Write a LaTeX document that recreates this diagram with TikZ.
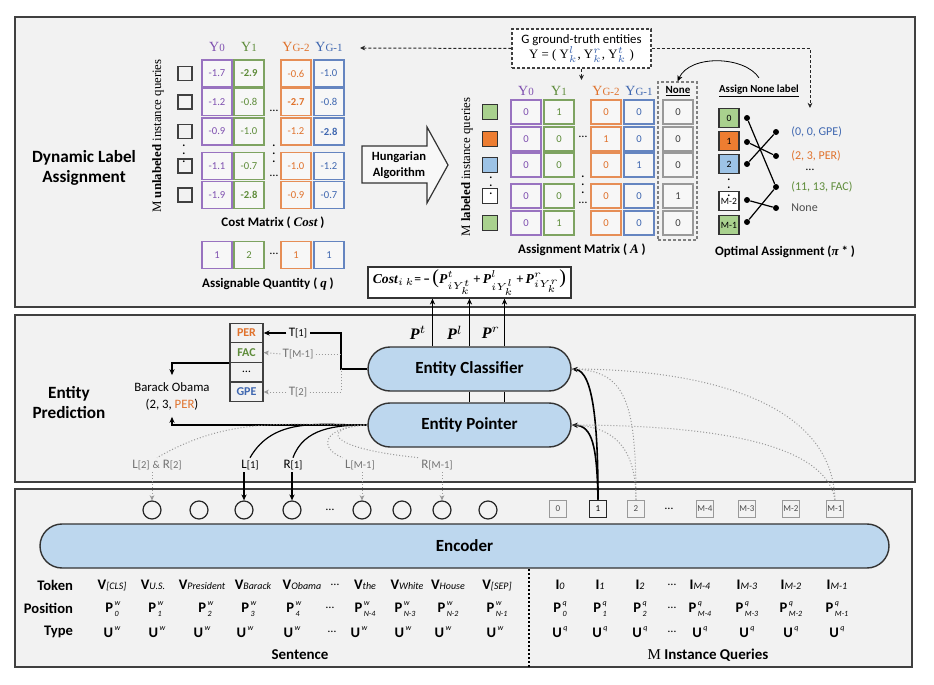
\documentclass[tikz,border=0pt]{standalone}
\usepackage{fontspec}
\usepackage{amsmath}
\setmainfont{Carlito}
\newfontfamily\serifont{Liberation Serif}
\usetikzlibrary{arrows.meta,calc,positioning}

\definecolor{panelbg}{HTML}{F2F2F2}
\definecolor{modfill}{HTML}{BDD7EE}
\definecolor{cpur}{HTML}{7F50B0}
\definecolor{cgrn}{HTML}{5E8C3A}
\definecolor{corg}{HTML}{E0722C}
\definecolor{cblu}{HTML}{3F67B0}
\definecolor{sqgrn}{HTML}{A9D18E}
\definecolor{sqorg}{HTML}{ED7D31}
\definecolor{sqblu}{HTML}{9DC3E6}
\definecolor{ngray}{HTML}{7F7F7F}

\newcommand\fsz[2]{\fontsize{#1pt}{#2pt}\selectfont}
\newcommand\colY[1]{Y{\fsz{5.5}{6}#1}}
\newcommand\idx[2]{#1{\fsz{5.3}{6}#2}}
\newcommand\tokV[1]{\textbf{V}{\fsz{5}{6}\itshape #1}}
\newcommand\qryI[1]{\textbf{I}{\fsz{5}{6}\itshape #1}}
\newcommand\posP[2]{\textbf{P}\kern0.7pt\rlap{\raisebox{3.8pt}{\fsz{4}{5}\itshape #1}}\raisebox{-1.9pt}{\fsz{4}{5}\itshape #2}}
\newcommand\typU[1]{\textbf{U}\kern0.7pt\raisebox{3.6pt}{\fsz{4}{5}\itshape #1}}
\newcommand\bfP{{\serifont\bfseries\itshape P}}
\newcommand\bigpar[1]{{\fsz{10}{10}\serifont #1}}

\tikzset{
  panel/.style={draw=black!75, fill=panelbg, line width=0.6pt},
  sectitle/.style={font=\bfseries\fsz{8.6}{10}, align=center},
  cell/.style={draw=#1!80, text=#1, fill=white!40!panelbg, line width=0.7pt,
    minimum width=15pt, minimum height=13.5pt, inner sep=0pt, font=\fsz{5.3}{6}},
  acell/.style={cell=#1, minimum height=12pt},
  hdr/.style={text=#1, font=\serifont\fsz{7}{8}},
  chk/.style={draw=black!75, fill=panelbg, line width=0.7pt, minimum size=7pt, inner sep=0pt},
  lsq/.style={draw=black!80, fill=#1, line width=0.6pt, minimum size=7.5pt, inner sep=0pt},
  obox/.style={draw=black!80, fill=#1, line width=0.6pt, minimum width=10pt,
    minimum height=9.5pt, inner sep=0pt, font=\fsz{4.8}{5}},
  odot/.style={circle, fill=black, inner sep=0pt, minimum size=3pt},
  capt/.style={font=\bfseries\fsz{6.5}{8}},
  ell/.style={font=\fsz{6}{7}, inner sep=0pt},
  vell/.style={font=\fsz{7}{8}, inner sep=0pt},
  rot/.style={rotate=90, font=\serifont\fsz{6.4}{7}},
  module/.style={draw=black!80, fill=modfill, line width=0.7pt, rounded corners=11pt,
    minimum width=101.5pt, minimum height=22pt, font=\bfseries\fsz{8.5}{10}},
  costbox/.style={draw=black!80, fill=white, line width=0.6pt, minimum width=101.5pt,
    minimum height=15.5pt, inner sep=0pt, font=\fsz{6.8}{8}},
  plab/.style={font=\fsz{8}{9}},
  tcell/.style={draw=black!75, fill=panelbg, line width=0.7pt, minimum width=16.5pt,
    minimum height=9.75pt, inner sep=0pt, font=\bfseries\fsz{6}{7}},
  tlab/.style={font=\fsz{6.5}{7}, inner sep=1pt},
  tok/.style={circle, draw=black!85, fill=panelbg, line width=0.6pt, minimum size=9pt, inner sep=0pt},
  qbox/.style={draw=black!40, fill=panelbg, line width=0.8pt, minimum size=8.5pt,
    inner sep=0pt, font=\fsz{4.5}{5}, text=black!70},
  rowlab/.style={font=\bfseries\fsz{7.3}{8}, anchor=east},
  rowtxt/.style={font=\fsz{7.3}{8}, inner sep=0.5pt},
  arr/.style={-{Stealth[length=3pt,width=2.6pt]}},
  gdot/.style={draw=black!40, line width=0.5pt, dash pattern=on 0.5pt off 1pt},
  gdarr/.style={gdot, -{Stealth[length=2.6pt,width=2.4pt]}},
  dsarr/.style={draw=black!85, line width=0.5pt, dash pattern=on 1.5pt off 1pt,
    -{Stealth[length=2.6pt,width=2.4pt]}},
}

\begin{document}
\begin{tikzpicture}[x=0.5pt,y=-0.5pt]
\useasboundingbox (0,0) rectangle (934,685);
\fill[white] (0,0) rectangle (934,685);

% Panels
\draw[panel] (15,17) rectangle (915,307);
\draw[panel] (15,315) rectangle (915,482);
\draw[panel] (15,489) rectangle (912,667);
\node[sectitle] (dla) at (84,168) {Dynamic Label\\Assignment};
\node[sectitle] (ep) at (69,403) {Entity\\Prediction};

% Cost matrix
\node[rot] (unl) at (158,136) {M \textbf{unlabeled} instance queries};
\node[hdr=cpur] (cy1) at (217,47) {\colY{0}};
\node[hdr=cgrn] (cy2) at (249,47) {\colY{1}};
\node[hdr=corg] (cy3) at (296,47) {\colY{G-2}};
\node[hdr=cblu] (cy4) at (329,47) {\colY{G-1}};
\foreach \y/\va/\vb/\vc/\vd [count=\r] in {
  73.5/-1.7/\textbf{-2.9}/-0.6/-1.0,
  102/-1.2/-0.8/\textbf{-2.7}/-0.8,
  131.5/-0.9/-1.0/-1.2/\textbf{-2.8},
  166/-1.1/-0.7/-1.0/-1.2,
  195/-1.9/\textbf{-2.8}/-0.9/-0.7}{
  \node[chk] (uq\r) at (185,\y) {};
  \node[cell=cpur] (cm\r1) at (217,\y) {\va};
  \node[cell=cgrn] (cm\r2) at (249,\y) {\vb};
  \node[cell=corg] (cm\r3) at (296,\y) {\vc};
  \node[cell=cblu] (cm\r4) at (329,\y) {\vd};
}
\node[ell] (cmd1) at (274,111) {\dots};
\node[ell] (cmd2) at (274,176) {\dots};
\node[vell] (cmv1) at (274,148) {$\vdots$};
\node[vell] (cmv2) at (184,148) {$\vdots$};
\node[capt] (cml) at (273,223) {Cost Matrix ( {\serifont\itshape Cost} )};

% Assignable quantity
\node[cell=cpur] (aq1) at (217,255) {1};
\node[cell=cgrn] (aq2) at (249,255) {2};
\node[cell=corg] (aq3) at (296,255) {1};
\node[cell=cblu] (aq4) at (329,255) {1};
\node[ell] (aqd) at (274,254) {\dots};
\node[capt] (aql) at (268,284) {Assignable Quantity ( {\serifont\itshape q} )};

% Hungarian algorithm
\draw[fill=white!50!panelbg, draw=black!80, line width=0.6pt] (362,146) -- (427,146) -- (427,127)
  -- (448,165) -- (427,203) -- (427,183) -- (362,183) -- cycle;
\node[font=\bfseries\fsz{6.3}{8}, align=center] (hung) at (399,165) {Hungarian\\Algorithm};

% Assignment matrix
\node[rot] (lbl) at (467,167) {M \textbf{labeled} instance queries};
\node[hdr=cpur] (ay1) at (526,91) {\colY{0}};
\node[hdr=cgrn] (ay2) at (559,91) {\colY{1}};
\node[hdr=corg] (ay3) at (606,91) {\colY{G-2}};
\node[hdr=cblu] (ay4) at (639,91) {\colY{G-1}};
\node[draw=ngray, dash pattern=on 1.5pt off 1pt, line width=0.6pt, minimum width=19.5pt,
  minimum height=79pt, inner sep=0pt] (nonebox) at (677.5,161) {};
\node[font=\bfseries\fsz{5.5}{6}] (noneh) at (678,91) {\underline{None}};
\foreach \y/\sq/\va/\vb/\vc/\vd/\ve [count=\r] in {
  112/sqgrn/0/1/0/0/0,
  139/sqorg/0/0/1/0/0,
  165/sqblu/0/0/0/1/0,
  196/white/0/0/0/0/1,
  223/sqgrn/0/1/0/0/0}{
  \node[lsq=\sq] (lq\r) at (490,\y) {};
  \node[acell=cpur] (am\r1) at (526,\y) {\va};
  \node[acell=cgrn] (am\r2) at (559,\y) {\vb};
  \node[acell=corg] (am\r3) at (606,\y) {\vc};
  \node[acell=cblu] (am\r4) at (639,\y) {\vd};
  \node[acell=ngray, text=black!75] (am\r5) at (678,\y) {\ve};
}
\node[ell] (amd1) at (583,137) {\dots};
\node[ell] (amd2) at (583,203) {\dots};
\node[vell] (amv1) at (583,179) {$\vdots$};
\node[vell] (amv2) at (491,180) {$\vdots$};
\node[capt] (aml) at (582,250) {Assignment Matrix ( {\serifont\itshape A} )};

% Ground truth
\node[draw=black!75, dash pattern=on 1.5pt off 1pt, line width=0.6pt, fill=white, minimum width=69.5pt, minimum height=19.5pt, align=center, font=\fsz{6.4}{7.6}, inner sep=1pt] (gt) at (581.5,48.5) {G ground-truth entities\\{\serifont Y = ( Y\textcolor{cblu}{$_k^l$}, Y\textcolor{cblu}{$_k^r$}, Y\textcolor{cblu}{$_k^t$} )}};
\coordinate (gtl) at (360,48);
\coordinate (gtr) at (810,108);
\coordinate (gtb) at (581.5,80);
\draw[dsarr] (gt.west) -- (gtl);
\draw[dsarr] (gt.east) -| (gtr);
\draw[dsarr] (gt.south) -- (gtb);

% Optimal assignment
\node[font=\bfseries\fsz{5.4}{6}] (anl) at (759,91) {\underline{Assign None label}};
\draw[arr] (anl.north) .. controls (745,56) and (690,54) .. (nonebox.north);
\foreach \y/\f/\lab [count=\r] in {118/sqgrn/0, 141/sqorg/1, 164/sqblu/2, 201/white/M-2, 225/sqgrn/M-1}
  \node[obox=\f] (ob\r) at (729,\y) {\lab};
\node[vell] (obv) at (729,182) {$\vdots$};
\foreach \y [count=\r] in {118,142,164,200,222}
  \node[odot] (ld\r) at (747,\y) {};
\foreach \y [count=\r] in {132,156,187,208}
  \node[odot] (rd\r) at (776,\y) {};
\node[anchor=west, inner sep=1pt, text=cblu, font=\fsz{6}{7}] (oa1) at (789,132) {(0, 0, GPE)};
\node[anchor=west, inner sep=1pt, text=corg, font=\fsz{6}{7}] (oa2) at (789,156) {(2, 3, PER)};
\node[ell] (oad) at (810,170) {\dots};
\node[anchor=west, inner sep=1pt, text=cgrn, font=\fsz{6}{7}] (oa3) at (789,187) {(11, 13, FAC)};
\node[anchor=west, inner sep=1pt, text=black!70, font=\fsz{6}{7}] (oa4) at (789,208) {None};
\draw[line width=0.6pt] (ld1) -- (rd3);
\draw[line width=0.6pt] (ld2) -- (rd2);
\draw[line width=0.6pt] (ld3) -- (rd1);
\draw[line width=0.6pt] (ld4) -- (rd4);
\draw[line width=0.6pt] (ld5) -- (rd3);
\node[capt] (oal) at (785,252) {Optimal Assignment ({\serifont\itshape π} * )};

% Cost formula
\node[costbox] (costf) at (469.5,282.5) {{\serifont\bfseries\itshape Cost}$_{i\,k}$=\,\textbf{\textendash}\,\bigpar{(}\bfP$^{t}_{iY_k^t}$\,+\,\bfP$^{l}_{iY_k^l}$\,+\,\bfP$^{r}_{iY_k^r}$\bigpar{)}};

% Entity classifier and pointer
\node[module] (cls) at (469.5,369) {Entity Classifier};
\node[module] (ptr) at (469.5,425) {Entity Pointer};
\draw[line width=0.7pt] (cls.south) -- (ptr.north);
\draw[line width=0.7pt] ($(cls.south)+(35,0)$) -- ($(ptr.north)+(35,0)$);
\draw[arr, line width=0.6pt] ($(cls.north)+(-37,0)$) -- ($(costf.south)+(-37,0)$);
\draw[arr, line width=0.6pt] (cls.north) -- (costf.south);
\draw[arr, line width=0.6pt] ($(cls.north)+(35,0)$) -- ($(costf.south)+(35,0)$);
\node[plab] (plt) at (418,333) {\bfP$^{t}$};
\node[plab] (pll) at (455,333) {\bfP$^{l}$};
\node[plab] (plr) at (491,333) {\bfP$^{r}$};

% Type table
\node[tcell, text=corg] (per) at (246.5,333) {PER};
\node[tcell, text=cgrn] (fac) at (246.5,352.5) {FAC};
\node[tcell, font=\fsz{6}{7}] (tdots) at (246.5,372) {\dots};
\node[tcell, text=cblu] (gpe) at (246.5,392) {GPE};
\node[tlab] (t1) at (298,333) {\idx{T}{[1]}};
\node[tlab, text=black!55] (tm1) at (298,354) {\idx{T}{[M-1]}};
\node[tlab, text=black!55] (t2) at (298,392) {\idx{T}{[2]}};
\coordinate (tj) at (341,333);
\draw[line width=0.6pt] (cls.west) -| (tj) -- (t1.east);
\draw[arr, line width=0.6pt] (t1.west) -- (per.east);
\draw[gdot] (tm1.east) -- (tm1.east -| tj);
\draw[gdot] (t2.east) -| (cls.west -| tj);
\draw[gdarr] (tm1.west) -- (fac.east);
\draw[gdarr] (t2.west) -- (gpe.east);

% Prediction
\node[align=center, font=\fsz{6.4}{8.5}] (bo) at (172,396) {Barack Obama\\(2, 3, \textcolor{corg}{PER})};
\draw[arr, line width=0.6pt] (fac.south west) -| (bo.north);
\draw[arr, line width=0.6pt] (ptr.west) -| (bo.south);

% Boundary labels
\node[tlab, text=black!55] (l2r2) at (157,465) {\idx{L}{[2]} {\fsz{5.3}{6}\&} \idx{R}{[2]}};
\node[tlab] (l1) at (250,465) {\idx{L}{[1]}};
\node[tlab] (r1) at (293,465) {\idx{R}{[1]}};
\node[tlab, text=black!55] (lm1) at (360,465) {\idx{L}{[M-1]}};
\node[tlab, text=black!55] (rm1) at (437,465) {\idx{R}{[M-1]}};
\draw[line width=0.6pt] (ptr.west) to[out=180,in=60] (l1.north);
\draw[line width=0.6pt] (ptr.west) to[out=180,in=70] (r1.north);
\draw[gdot] (ptr.west) to[out=180,in=30] (l2r2.north);
\draw[gdot] (ptr.west) .. controls (322,427) and (318,448) .. (lm1.north west);
\draw[gdot] (ptr.west) .. controls (322,427) and (322,448) .. (rm1.north west);

% Token outputs
\foreach \x [count=\i] in {152,199,244,292,362,402,442,488}
  \node[tok] (c\i) at (\x,510) {};
\node[ell] (cdots) at (330,510) {\dots};
\draw[gdarr] (l2r2.south -| c1) -- (c1.north);
\draw[arr, line width=0.6pt] (l1.south -| c3) -- (c3.north);
\draw[arr, line width=0.6pt] (r1.south -| c4) -- (c4.north);
\draw[gdarr] (lm1.south -| c5) -- (c5.north);
\draw[gdarr] (rm1.south -| c7) -- (c7.north);

% Query outputs
\node[qbox] (q0) at (558,509) {0};
\node[qbox, draw=black!85, text=black] (q1) at (598,509) {1};
\node[qbox] (q2) at (636,509) {2};
\node[ell] (qdots) at (669,509) {\dots};
\node[qbox] (qm4) at (705,509) {M-4};
\node[qbox] (qm3) at (747,509) {M-3};
\node[qbox] (qm2) at (791,509) {M-2};
\node[qbox] (qm1) at (835,509) {M-1};
\draw[arr, line width=0.8pt] (q1.north) .. controls (598,430) and (594,371) .. (cls.east);
\draw[arr, line width=0.8pt] (q1.north) .. controls (597,445) and (592,426) .. (ptr.east);
\draw[gdot] (q2.north) .. controls (636,400) and (625,370) .. (cls.east);
\draw[gdot] (q2.north) .. controls (636,455) and (620,426) .. (ptr.east);
\draw[gdot] (qm1.north) .. controls (832,400) and (700,369) .. (cls.east);
\draw[gdot] (qm1.north) .. controls (825,440) and (700,425) .. (ptr.east);

% Encoder
\node[module, minimum width=424.5pt] (enc) at (464.5,546) {Encoder};

% Input embeddings
\node[rowlab] (tokl) at (80,585) {Token};
\node[rowlab] (posl) at (80,608) {Position};
\node[rowlab] (typl) at (80,632) {Type};
\foreach \x/\v [count=\i] in {112/[CLS],153/U.S.,202/President,253/Barack,302/Obama,365/the,407/White,448/House,497/[SEP]}
  \node[rowtxt] (tk\i) at (\x,585) {\tokV{\v}};
\foreach \x/\s [count=\i] in {112/0,155/1,205/2,248/3,293/4,365/N-4,405/N-3,448/N-2,497/N-1}
  \node[rowtxt] (ps\i) at (\x,609) {\posP{w}{\s}};
\foreach \x [count=\i] in {112,157,202,245,292,359,403,443,495}
  \node[rowtxt] (ty\i) at (\x,632) {\typU{w}};
\node[ell] (tkd) at (335,585) {\dots};
\node[ell] (psd) at (330,608) {\dots};
\node[ell] (tyd) at (332,632) {\dots};
\foreach \x/\s [count=\i] in {560/0,600/1,640/2,700/M-4,747/M-3,791/M-2,837/M-1} {
  \node[rowtxt] (qi\i) at (\x,585) {\qryI{\s}};
  \node[rowtxt] (qp\i) at (\x,609) {\posP{q}{\s}};
  \node[rowtxt] (qu\i) at (\x,632) {\typU{q}};
}
\node[ell] (qid) at (672,585) {\dots};
\node[ell] (qpd) at (672,608) {\dots};
\node[ell] (qud) at (672,632) {\dots};
\draw[line width=0.6pt, dash pattern=on 1pt off 1pt] (529,569) -- (529,667);
\node[font=\bfseries\fsz{7.5}{8}] (sent) at (300,655) {Sentence};
\node[font=\bfseries\fsz{7.5}{8}] (mq) at (708,655) {{\serifont\mdseries M} Instance Queries};
\end{tikzpicture}
\end{document}
